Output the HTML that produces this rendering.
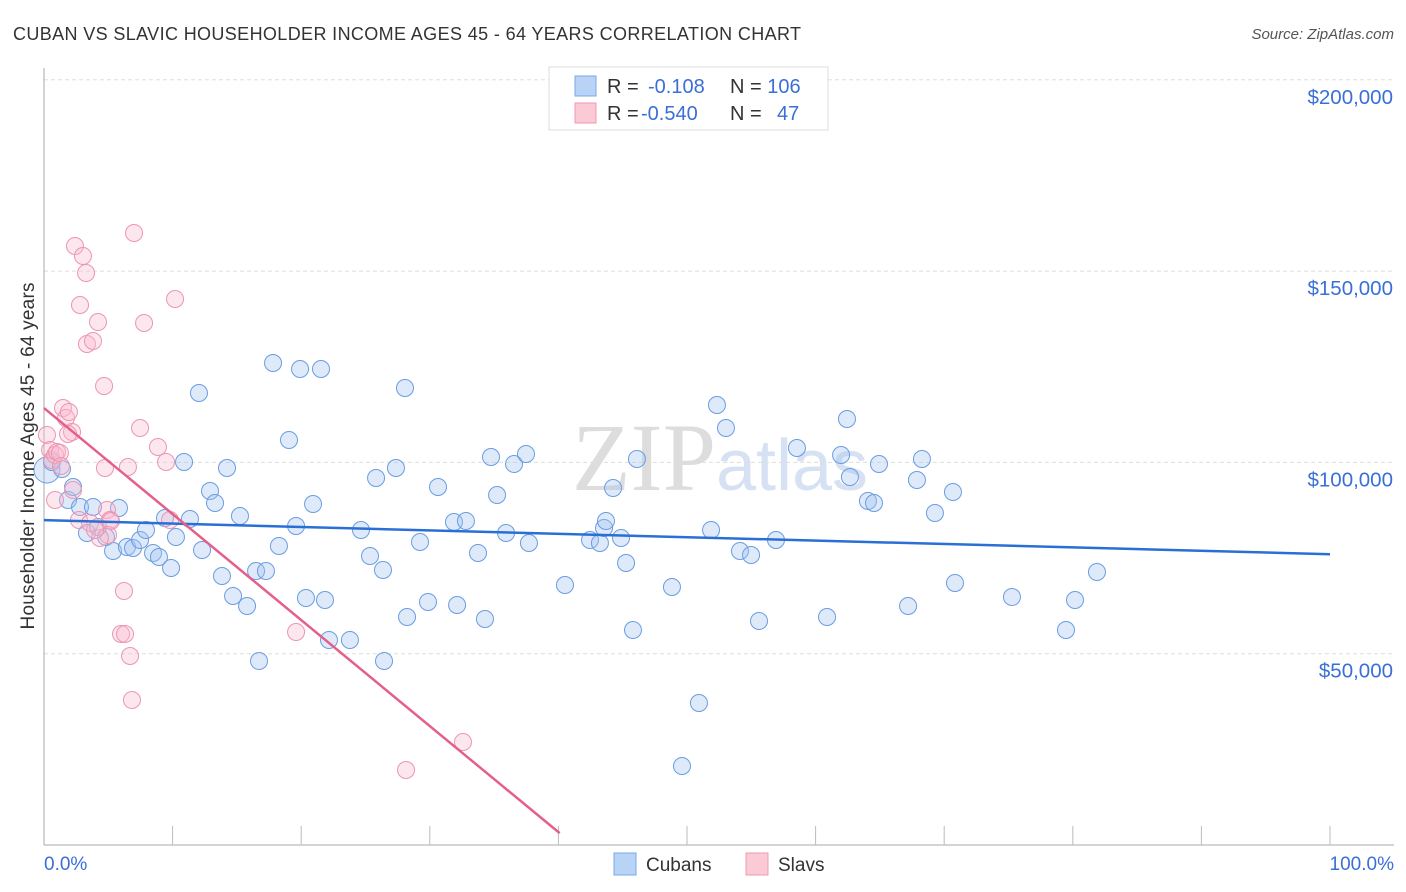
<!DOCTYPE html>
<html><head><meta charset="utf-8">
<style>
body{margin:0;background:#fff;font-family:"Liberation Sans",sans-serif;}
svg{display:block}
</style></head>
<body>
<svg id="chart" width="1406" height="892" viewBox="0 0 1406 892">
<text x="13" y="40" font-size="18" fill="#333" textLength="788">CUBAN VS SLAVIC HOUSEHOLDER INCOME AGES 45 - 64 YEARS CORRELATION CHART</text>
<text x="1394" y="39" font-size="15" fill="#555" font-style="italic" text-anchor="end">Source: ZipAtlas.com</text>
<text x="720" y="490" font-size="96" fill="#ddd" text-anchor="middle" font-family="Liberation Serif,serif">ZIP<tspan fill="#d6e2f3" font-family="Liberation Sans,sans-serif" font-size="72">atlas</tspan></text>
<g id="grid"></g>
<g id="axes"></g>
<g id="pts"></g>
<g id="trend"></g>
<text transform="translate(34,456) rotate(-90)" font-size="19" fill="#333" text-anchor="middle" textLength="347">Householder Income Ages 45 - 64 years</text>
<text x="44" y="870" font-size="19" fill="#3a6fd8">0.0%</text>
<text x="1394" y="870" font-size="19" fill="#3a6fd8" text-anchor="end">100.0%</text>
<g>
<rect x="549" y="67" width="279" height="63" fill="#fff" stroke="#ddd"/>
<rect x="575" y="76" width="21" height="20" fill="#b8d3f5" stroke="#7aa7e6"/>
<rect x="575" y="103" width="21" height="20" fill="#fcc9d6" stroke="#ef9ab2"/>
<text x="607" y="93" font-size="20" fill="#333">R = <tspan fill="#3a6fd8" x="648">-0.108</tspan><tspan x="730">N = </tspan><tspan fill="#3a6fd8">106</tspan></text>
<text x="607" y="120" font-size="20" fill="#333">R = <tspan fill="#3a6fd8" x="641">-0.540</tspan><tspan x="730">N = </tspan><tspan fill="#3a6fd8" x="777">47</tspan></text>
</g>
<g>
<rect x="614" y="853" width="22" height="22" fill="#b8d3f5" stroke="#7aa7e6"/>
<text x="646" y="871" font-size="19" fill="#333">Cubans</text>
<rect x="746" y="853" width="22" height="22" fill="#fcc9d6" stroke="#ef9ab2"/>
<text x="778" y="871" font-size="19" fill="#333">Slavs</text>
</g>
</svg>
<script>
const yTicks=[50000,100000,150000,200000];
const yTickLabels=["$50,000","$100,000","$150,000","$200,000"];
const cubansPx=[[47,470],[52,462],[62,469],[68,500],[73,487],[80,507],[87,533],[93,507],[98,527],[106,537],[113,551],[119,508],[127,547],[133,548],[140,540],[146,530],[153,553],[159,557],[165,518],[171,568],[176,537],[184,462],[190,519],[199,393],[202,550],[210,491],[215,503],[222,576],[227,468],[233,596],[240,516],[247,606],[256,571],[259,661],[266,571],[273,363],[279,546],[289,440],[296,526],[306,598],[300,369],[313,504],[321,369],[325,600],[329,640],[350,640],[361,530],[370,556],[376,478],[383,570],[384,661],[396,468],[405,388],[407,617],[420,542],[428,602],[438,487],[454,522],[457,605],[466,521],[478,553],[485,619],[491,457],[497,495],[506,533],[514,464],[526,454],[529,543],[565,585],[590,540],[600,543],[604,528],[606,521],[613,488],[621,538],[626,563],[633,630],[637,459],[672,587],[682,766],[699,703],[711,530],[717,405],[726,428],[740,551],[751,555],[759,621],[776,540],[797,448],[827,617],[841,455],[847,419],[850,477],[868,501],[874,503],[879,464],[908,606],[917,480],[922,459],[935,513],[953,492],[955,583],[1012,597],[1066,630],[1075,600],[1097,572]];
const slavsPx=[[47,435],[50,450],[52,460],[55,455],[57,452],[60,453],[63,408],[66,418],[69,412],[72,432],[73,490],[75,246],[79,520],[83,256],[80,305],[86,273],[87,344],[90,523],[93,341],[98,322],[104,386],[105,468],[107,510],[110,520],[111,521],[108,535],[124,591],[121,634],[125,634],[130,656],[132,700],[134,233],[140,428],[144,323],[158,447],[166,462],[170,520],[175,299],[296,632],[406,770],[463,742],[128,467],[55,500],[61,466],[68,434],[100,538],[95,530]];
const cubansX=cubansPx.map(p=>+((p[0]-44)/12.86).toFixed(2));
const cubansY=cubansPx.map(p=>Math.round((845-p[1])/191.3*50000));
const slavsX=slavsPx.map(p=>+((p[0]-44)/12.86).toFixed(2));
const slavsY=slavsPx.map(p=>Math.round((845-p[1])/191.3*50000));
const cubansTrend=[[0,84900],[100,76000]];
const slavsTrend=[[0,114200],[40.1,3100]];
const X=v=>44+v*12.86, Y=v=>845-v/50000*191.3;
const NS='http://www.w3.org/2000/svg';
function mk(tag,at,parent){const e=document.createElementNS(NS,tag);for(const k in at)e.setAttribute(k,at[k]);document.getElementById(parent).appendChild(e);return e;}
yTicks.forEach((t,i)=>{
 const l=mk('line',{x1:44,x2:1394,y1:Y(t),y2:Y(t),stroke:'#ddd','stroke-dasharray':'4,3'},'grid');
 
 
 const tx=mk('text',{x:1393,y:Y(t)+24,'font-size':20.5,fill:'#3a6fd8','text-anchor':'end'},'grid');
 tx.textContent=yTickLabels[i];
 
 
});
const ax=mk('line',{x1:44,x2:44,y1:68,y2:845,stroke:'#aaa'},'axes');


const bx=mk('line',{x1:44,x2:1394,y1:845,y2:845,stroke:'#aaa'},'axes');


for(let k=1;k<=10;k++){const t=mk('line',{x1:X(k*10),x2:X(k*10),y1:826,y2:845,stroke:'#bbb'},'axes');
 
 }
cubansX.forEach((x,i)=>{const c=mk('circle',{cx:X(x),cy:Y(cubansY[i]),r:i==0?13:8.5,fill:'rgba(160,196,240,0.35)',stroke:'#6a9de2','stroke-width':1},'pts');
 
 });
slavsX.forEach((x,i)=>{const c=mk('circle',{cx:X(x),cy:Y(slavsY[i]),r:8.5,fill:'rgba(250,185,205,0.35)',stroke:'#ee95b0','stroke-width':1},'pts');
 
 });
const t1=mk('line',{x1:X(cubansTrend[0][0]),y1:Y(cubansTrend[0][1]),x2:X(cubansTrend[1][0]),y2:Y(cubansTrend[1][1]),stroke:'#2a6fd6','stroke-width':2.5},'trend');


const t2=mk('line',{x1:X(slavsTrend[0][0]),y1:Y(slavsTrend[0][1]),x2:X(slavsTrend[1][0]),y2:Y(slavsTrend[1][1]),stroke:'#e4608a','stroke-width':2.5},'trend');


</script>
</body></html>
